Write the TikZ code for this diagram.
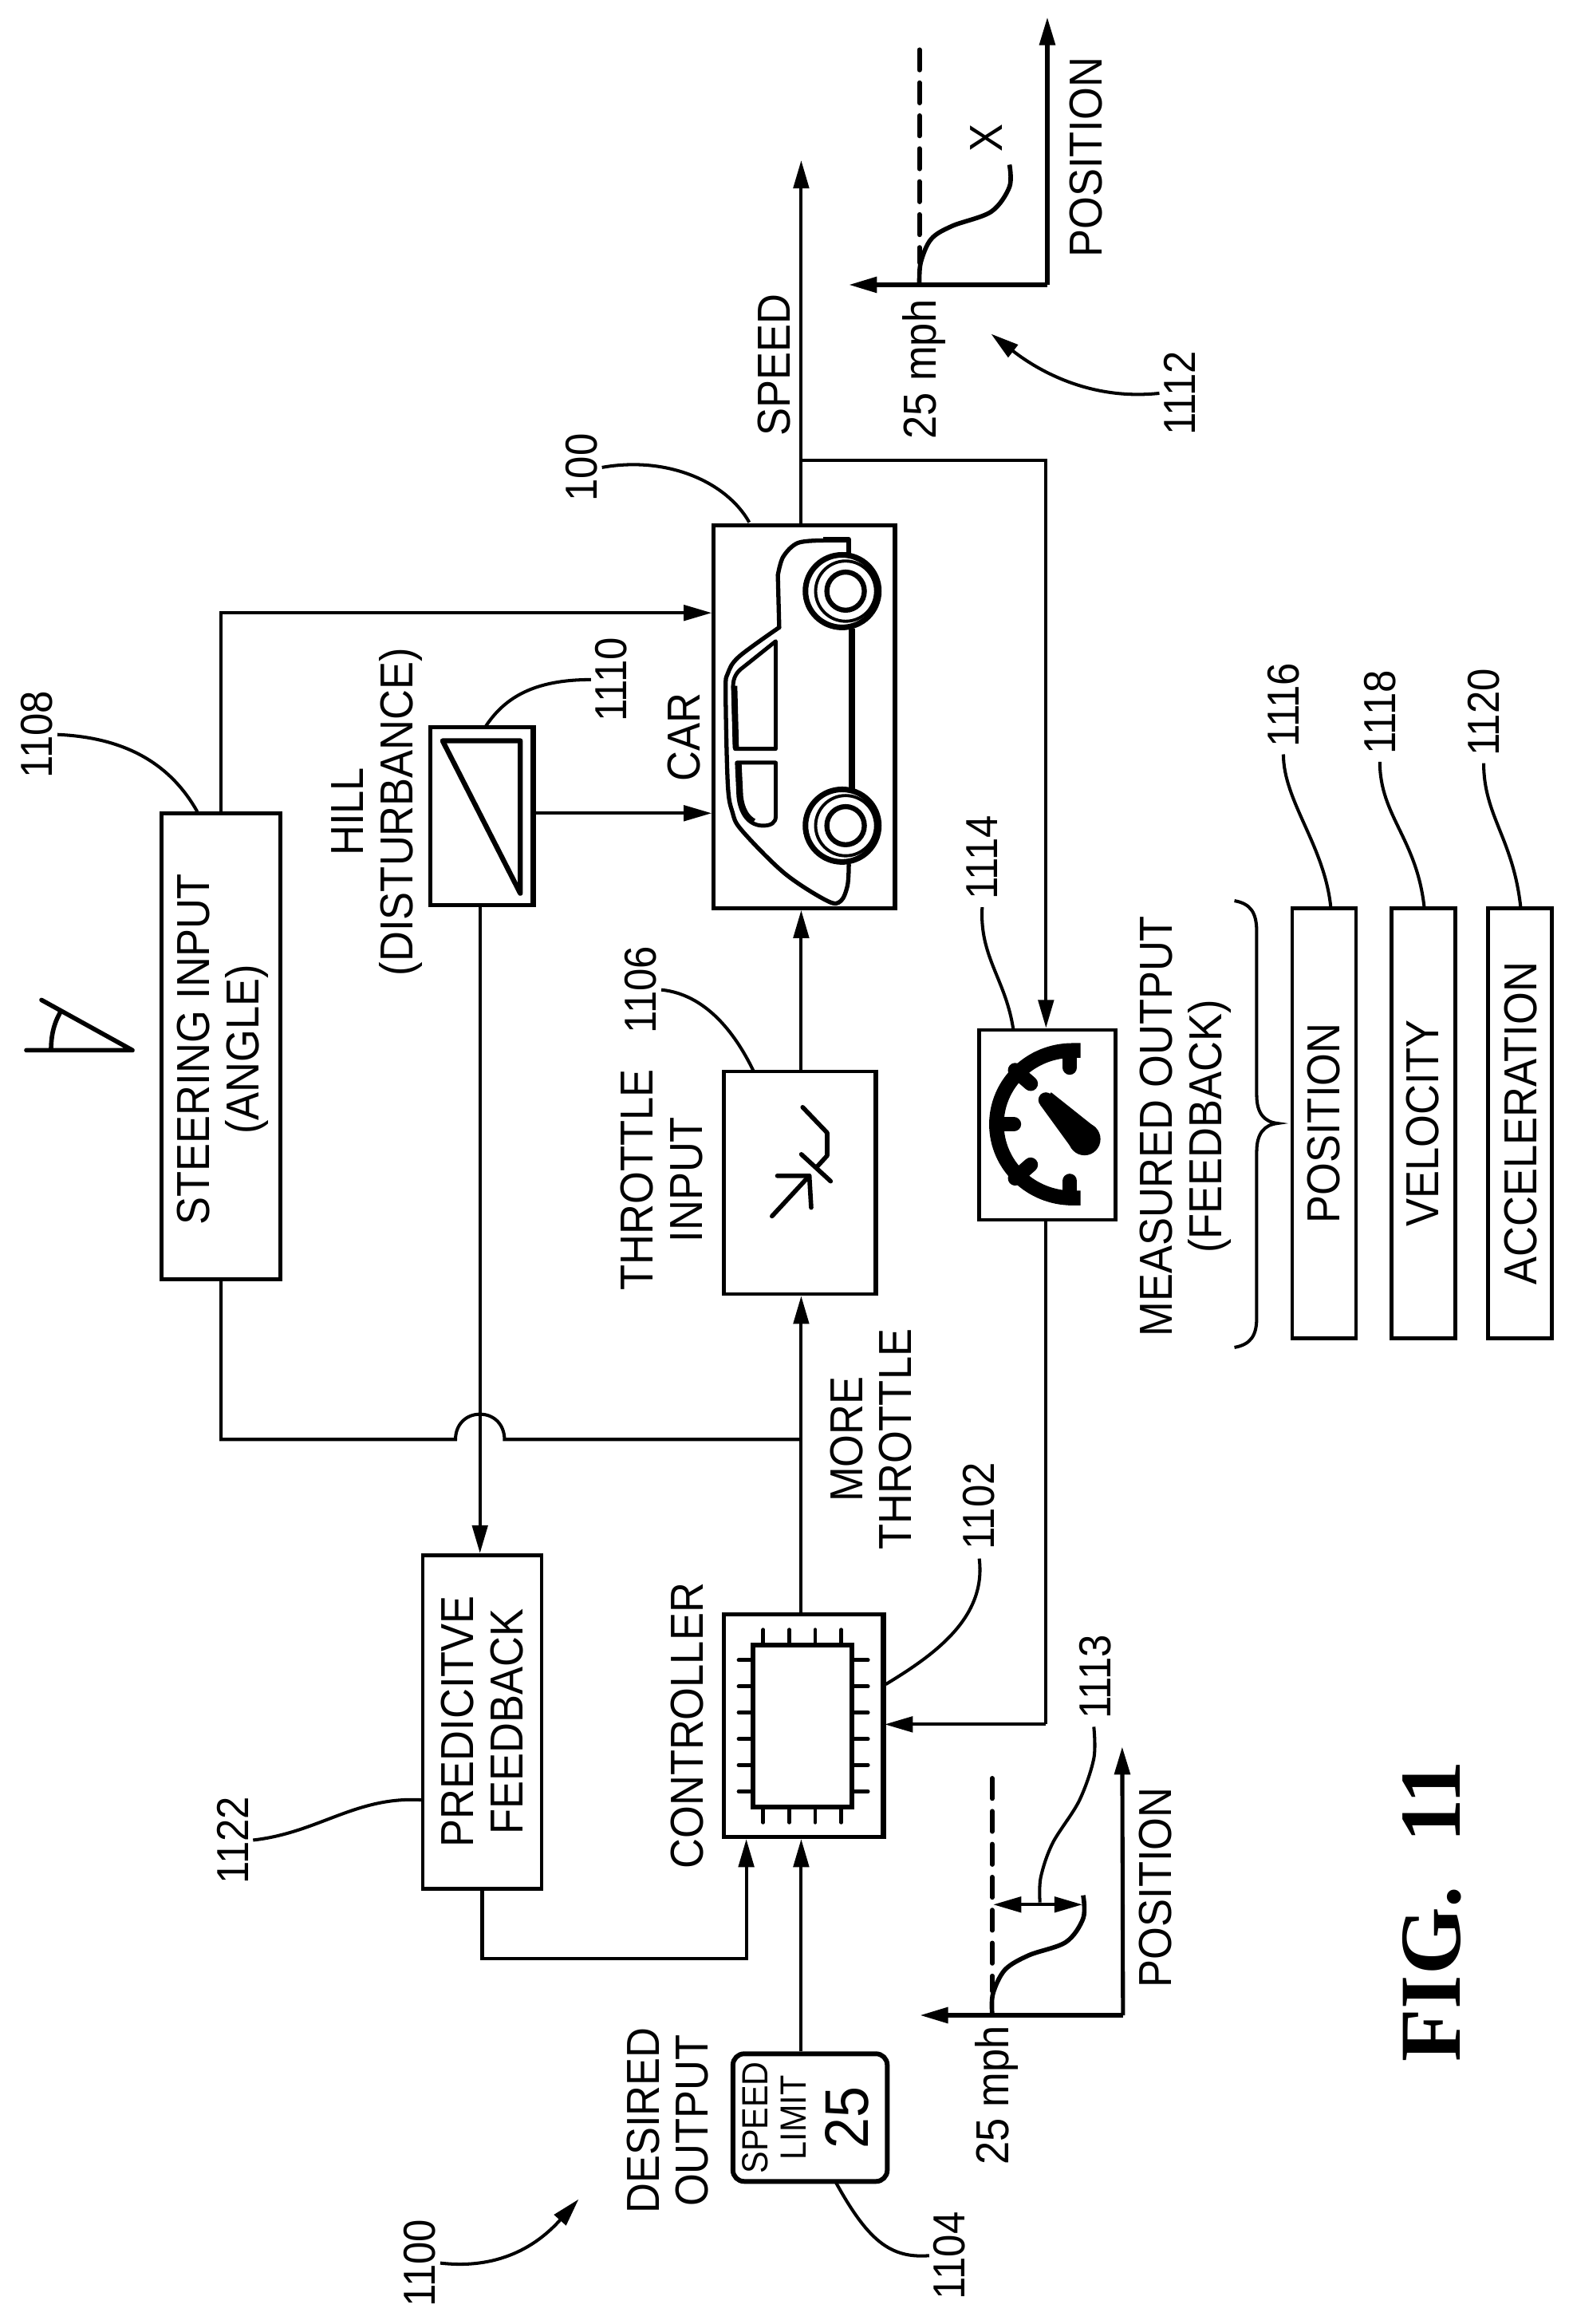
\documentclass[tikz,border=0pt]{standalone}
\usepackage{fontspec}
\setmainfont{Liberation Sans}[FakeStretch=0.905]
\newfontfamily\figfont{Liberation Serif}[Scale=1]
\usetikzlibrary{arrows.meta,calc}
\tikzset{
  boxst/.style={draw=black,line width=2.7pt,fill=white,inner sep=0pt},
  conn/.style={draw=black,line width=2.3pt},
  arr/.style={conn,-{Triangle[length=20pt,width=11pt]}},
  gaxis/.style={arr,line width=2.9pt},
  lead/.style={draw=black,line width=2.3pt},
  lbl/.style={rotate=90,font=\fontsize{33}{35}\selectfont,align=center,inner sep=0pt},
  num/.style={rotate=90,font=\fontsize{32}{32}\selectfont,inner sep=0pt},
  icon/.style={draw=black,line width=3.2pt,line cap=round,line join=round},
  dashln/.style={draw=black,line width=3.4pt,line cap=round,dash pattern=on 14.4pt off 9.1pt},
  curve/.style={draw=black,line width=3.2pt},
}
\newcommand{\bx}[6][]{\node[boxst,#1,minimum width={(#5-#3)*0.0372cm},minimum height={(#6-#4)*0.0372cm}] (#2) at ({(#3+#5)/2},{(#4+#6)/2}) {};}
\newcommand{\heavyedge}[1]{\draw[draw=black,line width=3.6pt] ([xshift=-1pt]#1.north east) -- ([xshift=-1pt]#1.south east);}
\begin{document}
\begin{tikzpicture}[x=0.0372cm,y=-0.0372cm]
\useasboundingbox (0,0) rectangle (1057.5,1566.1);
\fill[white] (0,0) rectangle (1057.5,1566.1);
% boxes
\bx{car}{481}{354}{603}{612}
\bx{thr}{488}{722}{590}{872}
\bx{steer}{109}{548}{189}{862}
\bx{hill}{290}{490}{359}{610}
\bx{pred}{285}{1048}{365}{1273}
\bx{ctrl}{488}{1088}{595}{1238}
\bx[rounded corners=8pt,line width=3.4pt]{sign}{494}{1384}{598}{1470}
\bx{meter}{660}{694}{752}{822}
\bx{pos}{871}{612}{914}{902}
\bx{vel}{938}{612}{981}{902}
\bx{acc}{1003}{612}{1046}{902}
\heavyedge{car}
\heavyedge{thr}
\heavyedge{hill}
\heavyedge{ctrl}
% helper coordinates
\coordinate (mx) at (540,0);
\coordinate (top) at (540,108);
\coordinate (j1) at (540,310);
\coordinate (j1r) at (705,310);
\coordinate (j2) at (540,970);
\coordinate (hopa) at (307,970);
\coordinate (hopb) at (340,970);
\coordinate (sl) at (149,970);
\coordinate (st) at (149,413);
\coordinate (fbk) at (705,1162);
\coordinate (pl) at (325,1320);
\coordinate (pr) at (503,1320);
% connectors
\draw[arr] (mx |- sign.north) -- (mx |- ctrl.south);
\draw[arr] (mx |- ctrl.north) -- (mx |- thr.south);
\draw[arr] (mx |- thr.north) -- (mx |- car.south);
\draw[arr] (mx |- car.north) -- (top);
\draw[arr] (j1) -- (j1r) -- (j1r |- meter.north);
\draw[arr] (st |- steer.north) -- (st) -- (st -| car.west);
\draw[conn] (st |- steer.south) -- (sl) -- (hopa) .. controls (307,960) and (314,953) .. (323.5,953) .. controls (333,953) and (340,960) .. (hopb) -- (j2);
\draw[arr] (hill.south -| 323.5,0) -- (pred.north -| 323.5,0);
\draw[arr] (hill.east |- 0,548) -- (car.west |- 0,548);
\draw[conn] (fbk |- meter.south) -- (fbk);
\draw[arr] (fbk) -- (fbk -| ctrl.east);
\draw[arr] (pl |- pred.south) -- (pl) -- (pr) -- (pr |- ctrl.south);
% text
\node[lbl] (tspeed) at (522,246) {SPEED};
\node[lbl] (tcar) at (461,497) {CAR};
\node[lbl] (tthr) at (446,795) {THROTTLE\\INPUT};
\node[lbl] (tmore) at (587,970) {MORE\\THROTTLE};
\node[lbl] (tctrl) at (463,1163) {CONTROLLER};
\node[lbl] (tpred) at (325,1160) {PREDICITVE\\FEEDBACK};
\node[lbl] (tsteer) at (150,707) {STEERING INPUT\\(ANGLE)};
\node[lbl] (thill) at (254,547) {HILL\\(DISTURBANCE)};
\node[lbl] (tdes) at (450,1429) {DESIRED\\OUTPUT};
\node[lbl] (tmeas) at (799,759) {MEASURED OUTPUT\\(FEEDBACK)};
\node[lbl] (tpos) at (892,757) {POSITION};
\node[lbl] (tvel) at (959,757) {VELOCITY};
\node[lbl] (tacc) at (1025,757) {ACCELERATION};
\node[lbl] (tposa) at (732,106) {POSITION};
\node[lbl] (tposb) at (779,1272) {POSITION};
\node[lbl] (tmpha) at (623,249) {25 mph};
\node[lbl] (tmphb) at (672,1412) {25 mph};
\node[lbl] (tx) at (665,93) {X};
\node[rotate=90,font=\fontsize{26}{26}\selectfont,inner sep=0pt] (tsp) at (509,1427) {SPEED};
\node[rotate=90,font=\fontsize{26}{26}\selectfont,inner sep=0pt] (tlim) at (535,1427) {LIMIT};
\node[rotate=90,font=\fontsize{44}{44}\selectfont,inner sep=0pt] (t25) at (571,1427) {25};
\node[rotate=90,font=\figfont\bfseries\fontsize{62}{62}\selectfont,inner sep=0pt] (tfig) at (965,1288) {FIG.\ \ 11};
% numbers
\node[num] (n100) at (392,315) {100};
\node[num] (n1100) at (283,1525) {1100};
\node[num] (n1102) at (660,1015) {1102};
\node[num] (n1104) at (640,1520) {1104};
\node[num] (n1106) at (432,667) {1106};
\node[num] (n1108) at (25,495) {1108};
\node[num] (n1110) at (412,458) {1110};
\node[num] (n1112) at (795,265) {1112};
\node[num] (n1113) at (738,1130) {1113};
\node[num] (n1114) at (662,578) {1114};
\node[num] (n1116) at (865,475) {1116};
\node[num] (n1118) at (930,480) {1118};
\node[num] (n1120) at (1000,480) {1120};
\node[num] (n1122) at (157,1240) {1122};
% leaders
\draw[lead] (505,352) .. controls (490,325) and (450,307) .. ([xshift=3pt]n100.south);
\draw[lead,-{Triangle[length=20pt,width=11pt]}] ([xshift=3pt]n1100.south) .. controls (340,1530) and (365,1510) .. (390,1482);
\draw[lead] (563,1470) .. controls (585,1510) and (600,1522) .. ([xshift=-3pt]n1104.north);
\draw[lead] (597,1135) .. controls (630,1115) and (665,1090) .. ([yshift=-6pt]n1102.west);
\draw[lead] (285,1213) .. controls (240,1210) and (215,1235) .. ([xshift=3pt]n1122.south);
\draw[lead] (133,547) .. controls (115,515) and (85,497) .. ([xshift=3pt]n1108.south);
\draw[lead] (327,490) .. controls (340,470) and (360,458) .. ([xshift=-3pt]n1110.north);
\draw[lead] (508,722) .. controls (495,695) and (475,670) .. ([xshift=3pt]n1106.south);
\draw[lead] (683,694) .. controls (678,660) and (660,645) .. ([yshift=-5pt]n1114.west);
\draw[lead] (897,612) .. controls (893,570) and (865,540) .. ([yshift=-5pt]n1116.west);
\draw[lead] (960,612) .. controls (955,565) and (930,550) .. ([yshift=-5pt]n1118.west);
\draw[lead] (1025,612) .. controls (1020,565) and (1000,550) .. ([yshift=-5pt]n1120.west);
\draw[lead,-{Triangle[length=20pt,width=11pt]}] ([xshift=-3pt]n1112.north) .. controls (735,270) and (700,250) .. (668,225);
% brace
\draw[lead] (832,607) .. controls (843,609) and (847,615) .. (847,628) -- (847,738) .. controls (847,750) and (852,756) .. (861,757) .. controls (852,758) and (847,764) .. (847,776) -- (847,888) .. controls (847,900) and (843,906) .. (832,908);
% steering icon
\begin{scope}[shift={(0,671.7)},x=0.02cm,y=-0.02cm]
\draw[icon] (33,67) -- (166,67) -- (52,4);
\draw[icon,line cap=butt] (64,67) .. controls (64,47) and (68,32) .. (77,17);
\end{scope}
% hill triangle
\begin{scope}[shift={(279,472.6)},x=0.00684cm,y=-0.00668cm]
\draw[icon,line width=3.6pt] (105,148) -- (390,148) -- (390,720) -- cycle;
\end{scope}
% throttle icon
\begin{scope}[shift={(483.5,714.4)},x=0.00669cm,y=-0.00675cm]
\draw[icon] (320,175) -- (412,270) -- (412,355) -- (375,395);
\draw[icon] (315,350) -- (425,450);
\draw[icon] (205,580) -- (345,430);
\draw[icon] (225,430) -- (345,430) -- (352,548);
\end{scope}
% chip
\begin{scope}[shift={(483.5,1087)},x=0.00669cm,y=-0.00674cm]
\draw[draw=black,line width=3.4pt] (135,118) rectangle (505,722);
\foreach \p in {175,273,370,468,565,663} {
  \draw[icon,line width=2.8pt] (80,\p) -- (135,\p);
  \draw[icon,line width=2.8pt] (505,\p) -- (565,\p);
}
\foreach \p in {172,270,367,465} {
  \draw[icon,line width=2.8pt] (\p,62) -- (\p,118);
  \draw[icon,line width=2.8pt] (\p,722) -- (\p,778);
}
\end{scope}
% meter
\begin{scope}[shift={(646.5,672)},x=0.00669cm,y=-0.00677cm]
\draw[draw=black,line width=10.5pt] (455,197) -- (425,197) arc[start angle=-90,end angle=-270,x radius=285,y radius=273] -- (455,743);
\draw[icon,line width=10.4pt] (415,210) -- (415,260);
\draw[icon,line width=10.4pt] (415,730) -- (415,680);
\draw[icon,line width=10.4pt] (210,270) -- (268,320);
\draw[icon,line width=10.4pt] (210,670) -- (268,620);
\draw[icon,line width=10.4pt] (150,470) -- (205,470);
\fill[black] (345,352) -- (512,483) -- (428,567) -- (305,400) -- cycle;
\fill[black] (325,380) circle[radius=28];
\fill[black] (470,525) circle[radius=60];
\end{scope}
% car
\begin{scope}[shift={(456.6,321.3)},x=0.00672cm,y=-0.0077cm]
\draw[icon,line width=3pt] plot[smooth,tension=.55] coordinates {(640,1262) (635,1330) (610,1380) (560,1380) (400,1290) (240,1150) (205,1090) (188,1000) (180,700) (188,640) (230,585) (380,490)};
\draw[icon,line width=3pt] (380,490) -- (375,320);
\draw[icon,line width=3pt] plot[smooth,tension=.55] coordinates {(375,320) (395,260) (450,215) (545,207)};
\draw[icon,line width=3.8pt,line cap=butt] (545,205) -- (640,205) -- (640,250);
\draw[icon,line width=4.6pt,line cap=butt] (652,495) -- (652,1025);
\foreach \w in {372,1135} {
  \draw[draw=black,line width=4pt] (615,\w) ellipse[x radius=137,y radius=118];
  \draw[draw=black,line width=2.2pt] (628,\w) ellipse[x radius=112,y radius=98];
  \draw[draw=black,line width=3.6pt] (628,\w) ellipse[x radius=70,y radius=62];
}
\draw[icon,line width=2.8pt] (367,535) -- (367,885) -- (215,885) -- (208,680) .. controls (208,655) and (220,635) .. (245,620) -- cycle;
\draw[icon,line width=4.4pt,line cap=butt] (218,882) -- (212,680);
\draw[icon,line width=2.8pt] (367,930) -- (367,1105) .. controls (367,1125) and (350,1135) .. (320,1135) .. controls (270,1135) and (235,1100) .. (228,1040) -- (222,930) -- cycle;
\draw[icon,line width=4.4pt,line cap=butt] (228,935) -- (234,1040) .. controls (240,1085) and (260,1110) .. (285,1122);
\end{scope}
% graph 1112
\begin{scope}[shift={(566,1)},x=0.00655cm,y=-0.00655cm]
\coordinate (ga) at (795,1085);
\draw[gaxis] (ga) -- (795,60);
\draw[gaxis] (ga) -- (35,1085);
\draw[dashln] (305,185) -- (305,1000);
\draw[curve] plot[smooth,tension=.55] coordinates {(305,1085) (310,1000) (350,910) (430,860) (580,805) (650,710) (650,625)};
\end{scope}
% graph 1113
\begin{scope}[shift={(618.3,1158.3)},x=0.00666cm,y=-0.00662cm]
\coordinate (gb) at (775,1122);
\draw[gaxis] (gb) -- (772,105);
\draw[gaxis] (gb) -- (10,1122);
\draw[dashln] (282,225) -- (282,1030);
\draw[curve] plot[smooth,tension=.55] coordinates {(282,1115) (285,1040) (330,950) (420,895) (560,845) (625,755) (625,668)};
\draw[arr,{Triangle[length=20pt,width=11pt]}-{Triangle[length=20pt,width=11pt]}] (286,703) -- (622,703);
\draw[lead] plot[smooth,tension=.55] coordinates {(462,695) (465,600) (510,470) (610,310) (665,150) (665,30)};
\end{scope}
\end{tikzpicture}
\end{document}
